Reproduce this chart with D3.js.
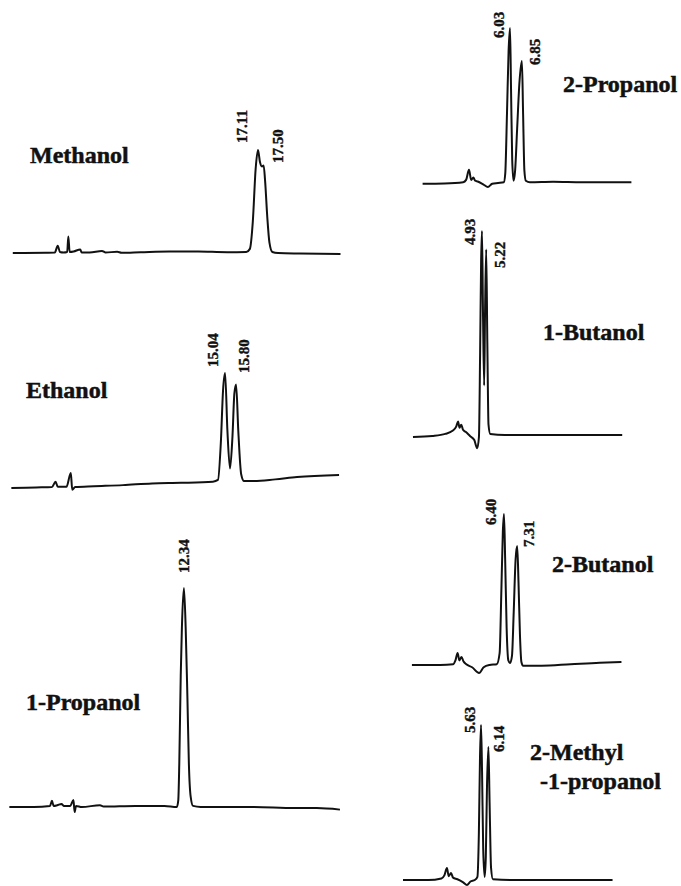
<!DOCTYPE html>
<html>
<head>
<meta charset="utf-8">
<script src="https://cdn.jsdelivr.net/npm/d3@7"></script>
<style>
	body { margin: 0; background: #fff; }
	svg { display: block; }
	.trace { fill: none; stroke: #111; stroke-width: 2; stroke-linejoin: round; }
	.name { font-family: "Liberation Serif", "Times New Roman", serif; font-weight: bold; font-size: 24px; fill: #111; stroke: #111; stroke-width: 0.5; }
	.rt { font-family: "Liberation Serif", "Times New Roman", serif; font-weight: bold; font-size: 15px; fill: #111; stroke: #111; stroke-width: 0.4; }
</style>
</head>
<body>
<svg id="chromatograms" width="681" height="886"></svg>
<script>
// Data: time in min, signal in % of the tallest peak
const names = [["Methanol"], ["Ethanol"], ["1-Propanol"], ["2-Propanol"],
	["1-Butanol"], ["2-Butanol"], ["2-Methyl", "-1-propanol"]];

const methanol_t = [0.2, 2.5, 3.1, 3.3, 3.45, 3.7, 3.95, 4.03, 4.12, 4.4, 4.85, 4.95, 5.5, 6.35, 6.6, 7.4, 7.7, 9, 11, 13, 15, 16.3, 16.55, 16.75, 16.95, 17.11, 17.25, 17.38, 17.5, 17.6, 17.75, 17.9, 18.1, 18.5, 20, 22.8];
const methanol_s = [0, 0.3, 0.5, 7, 1, 0.5, 1, 16, 1, 1.5, 3.5, 0.5, 0.5, 2, 0.5, 1.2, 0.3, 0.8, 1.5, 1.4, 0.8, 1, 4, 30, 82, 100, 88, 84, 85, 70, 35, 10, 1, 0, -0.5, -1];
const methanol_peaks = [17.11, 17.50];
const methanol_heights = [100, 85];

const ethanol_t = [0.3, 2, 3.1, 3.35, 3.5, 4.1, 4.4, 4.5, 4.7, 6, 8, 10, 12, 14.2, 14.55, 14.75, 14.9, 15.04, 15.2, 15.38, 15.55, 15.68, 15.8, 15.95, 16.15, 16.35, 17, 18.5, 20, 22.9];
const ethanol_s = [0, 0.5, 0.8, 5.5, 1, 1, 13, -1.5, 0.8, 1.5, 2.5, 4, 4.5, 5.5, 7, 40, 85, 100, 50, 17, 45, 82, 90, 50, 12, 6, 6, 7.5, 9.5, 11.3];
const ethanol_peaks = [15.04, 15.80];
const ethanol_heights = [100, 90];

const propanol1_t = [0.3, 2, 3.1, 3.24, 3.35, 3.6, 3.9, 4.05, 4.5, 4.72, 4.8, 4.9, 5.3, 6.55, 6.8, 9, 11, 11.85, 11.95, 12.02, 12.12, 12.2, 12.34, 12.46, 12.58, 12.68, 12.8, 12.97, 13.5, 17, 20, 21.5, 23.1];
const propanol1_s = [0, 0, 0.5, 2.8, 0.5, 0.8, 1.4, 0.5, 0.5, 3.2, -2.3, 0.5, 0, 0.8, 0.2, 0.5, 0.5, 0, 3, 20, 60, 82, 100, 82, 50, 20, 5, 0.5, 0, 0, -0.5, -0.5, -1.2];
const propanol1_peaks = [12.34];
const propanol1_heights = [100];

const propanol2_t = [0, 1.5, 2.8, 3.0, 3.2, 3.35, 3.5, 3.62, 3.8, 4.2, 4.5, 4.8, 5.2, 5.6, 5.7, 5.82, 5.93, 6.03, 6.1, 6.18, 6.27, 6.38, 6.52, 6.68, 6.85, 6.93, 7.02, 7.12, 7.4, 9, 11, 14.4];
const propanol2_s = [-0.5, -0.3, 0.5, 2, 8.5, 2, 3.5, 1.5, 1, -1, -2.6, -0.5, 0, 0.5, 6, 45, 85, 100, 60, 15, 1.5, 8, 35, 65, 78.7, 45, 8, 1.5, 0.5, 0.8, 0.5, 0.5];
const propanol2_peaks = [6.03, 6.85];
const propanol2_heights = [100, 78.7];

const butanol1_t = [0.17, 1.5, 2.4, 2.9, 3.15, 3.28, 3.38, 3.5, 3.62, 3.8, 4.1, 4.4, 4.6, 4.72, 4.8, 4.87, 4.93, 5.0, 5.08, 5.14, 5.22, 5.3, 5.38, 5.5, 6.5, 9, 14.6];
const butanol1_s = [0, 0.5, 1.5, 3, 5, 7.5, 4.5, 6, 3.5, 2.5, 0.5, -1.5, -5.5, 0, 40, 85, 100, 60, 25, 60, 91, 45, 6, 1.5, 1, 1, 1];
const butanol1_peaks = [4.93, 5.22];
const butanol1_heights = [100, 91];

const butanol2_t = [0.05, 2, 2.9, 3.05, 3.2, 3.32, 3.47, 3.6, 3.8, 4.2, 4.68, 5.0, 5.4, 5.9, 6.1, 6.22, 6.32, 6.4, 6.48, 6.58, 6.7, 6.82, 6.95, 7.07, 7.2, 7.31, 7.4, 7.5, 7.6, 7.72, 9, 11, 13, 14.5];
const butanol2_s = [0, 0, 0.5, 3, 8, 3, 5.3, 2.5, 0.5, -1.5, -5.3, -1.5, 0, 0.5, 8, 50, 88, 100, 70, 25, 3, 1.3, 6, 35, 70, 78.8, 55, 20, 2, -0.5, -0.5, 0.5, 1.5, 2];
const butanol2_peaks = [6.40, 7.31];
const butanol2_heights = [100, 78.8];

const methylpropanol_t = [0.25, 2, 2.9, 3.1, 3.28, 3.4, 3.56, 3.7, 4.0, 4.4, 4.66, 4.9, 5.2, 5.38, 5.48, 5.56, 5.63, 5.7, 5.78, 5.88, 5.96, 6.04, 6.14, 6.22, 6.32, 6.45, 8, 11, 14.7];
const methylpropanol_s = [0, 0, 1, 3, 7.7, 2.5, 4.5, 1.5, 0.5, -1.5, -3.2, -1, 0, 2, 30, 80, 100, 70, 20, 2, 15, 60, 85.8, 50, 8, 0.5, 0, 0, 0];
const methylpropanol_peaks = [5.63, 6.14];
const methylpropanol_heights = [100, 85.8];

// chart paper speed, px per minute
const PX_PER_MIN = 14.5;

// Panel layout: x0 = pixel of t=0, base/top = pixel of signal 0/100,
// name = [x, y] of first line, labels = [dx, dy] of each retention time
const layout = [
	{x0: 9.9, base: 253, top: 150, name: [30, 163], labels: [[-16.5, -7], [14, -2.5]]},
	{x0: 7, base: 488, top: 373, name: [26, 398], labels: [[-12.6, -6], [8, -11.5]]},
	{x0: 5, base: 807, top: 588, name: [26, 710], labels: [[0, -15]]},
	{x0: 422.6, base: 183, top: 28, name: [563, 92], labels: [[-11, 10], [13, 4]]},
	{x0: 410.5, base: 437, top: 231, name: [543, 340], labels: [[-12, 14], [14, 18.5]]},
	{x0: 411.2, base: 665, top: 514, name: [552, 572], labels: [[-13.5, 11], [11.3, 1]]},
	{x0: 399.4, base: 880, top: 725, name: [530, 760], labels: [[-11.5, 8], [10.6, 5]]}
];

function whenDocumentLoaded(action) {
	if (document.readyState === "loading") {
		document.addEventListener("DOMContentLoaded", action);
	} else {
		action();
	}
}

class Chromatogram {

	constructor(svg, data, lay) {

		const t_max = d3.max(data.t);

		const x = d3.scaleLinear()
			.domain([0, t_max])
			.range([lay.x0, lay.x0 + t_max * PX_PER_MIN]);

		const y = d3.scaleLinear()
			.domain([0, 100])
			.range([lay.base, lay.top]);

		const points = data.t.map((t, i) => [t, data.s[i]]);

		const line = d3.line()
			.x(d => x(d[0]))
			.y(d => y(d[1]))
			.curve(d3.curveMonotoneX);

		const g = svg.append("g");

		g.append("path")
			.attr("class", "trace")
			.attr("d", line(points));

		// retention times, rotated
		g.selectAll(".rt")
			.data(data.peaks)
			.enter()
			.append("text")
				.attr("class", "rt")
				.attr("dy", "0.35em")
				.attr("transform", (p, i) => "translate(" + (x(p) + lay.labels[i][0]) + ","
					+ (y(data.heights[i]) + lay.labels[i][1]) + ") rotate(-90)")
				.text(p => p.toFixed(2));

		// compound name
		g.selectAll(".name")
			.data(data.name)
			.enter()
			.append("text")
				.attr("class", "name")
				.attr("x", (d, i) => lay.name[0] + i * 10)
				.attr("y", (d, i) => lay.name[1] + i * 29)
				.text(d => d);
	}
}

whenDocumentLoaded(() => {

	const svg = d3.select("#chromatograms");

	const series = [
		[methanol_t, methanol_s, methanol_peaks, methanol_heights],
		[ethanol_t, ethanol_s, ethanol_peaks, ethanol_heights],
		[propanol1_t, propanol1_s, propanol1_peaks, propanol1_heights],
		[propanol2_t, propanol2_s, propanol2_peaks, propanol2_heights],
		[butanol1_t, butanol1_s, butanol1_peaks, butanol1_heights],
		[butanol2_t, butanol2_s, butanol2_peaks, butanol2_heights],
		[methylpropanol_t, methylpropanol_s, methylpropanol_peaks, methylpropanol_heights]
	];

	series.forEach((s, i) => {
		new Chromatogram(svg,
			{t: s[0], s: s[1], peaks: s[2], heights: s[3], name: names[i]},
			layout[i]);
	});
});
</script>
</body>
</html>
